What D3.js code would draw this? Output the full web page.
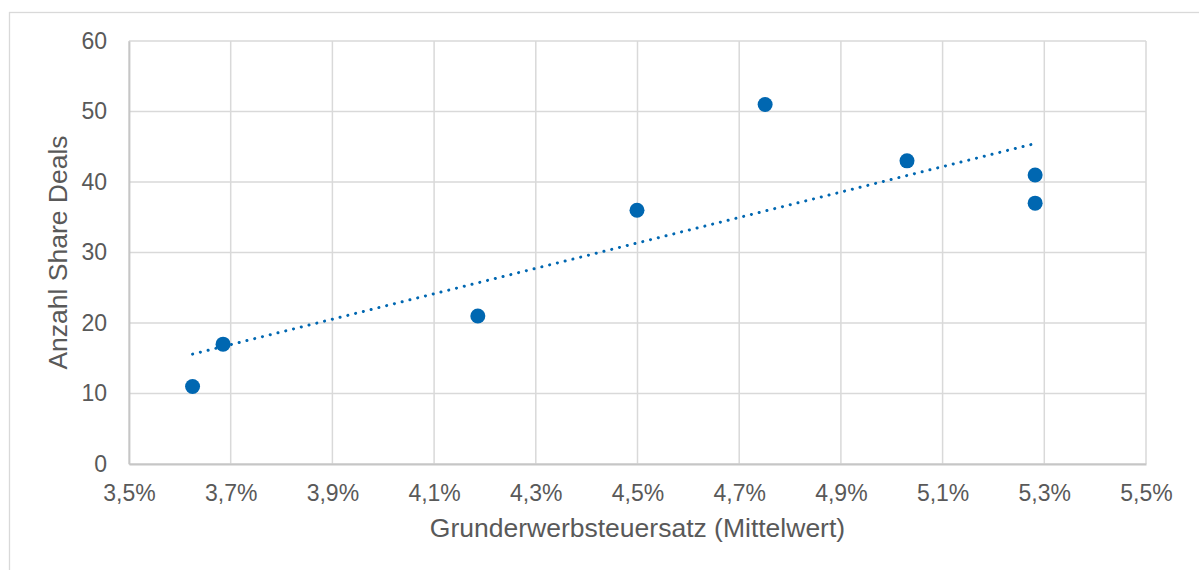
<!DOCTYPE html>
<html>
<head>
<meta charset="utf-8">
<script src="https://cdn.jsdelivr.net/npm/d3@7"></script>
<style>
  body { margin: 0; background: #fff; }
  svg { display: block; font-family: "Liberation Sans", Arial, sans-serif; }
</style>
</head>
<body>
<div id="chart"></div>
<script>
// --- Data ---
const taxRate = [3.625, 3.685, 4.186, 4.499, 4.751, 5.030, 5.282, 5.282]; // in %
const shareDeals = [11, 17, 21, 36, 51, 43, 41, 37];
const xTicks = [3.5, 3.7, 3.9, 4.1, 4.3, 4.5, 4.7, 4.9, 5.1, 5.3, 5.5];
const yTicks = [0, 10, 20, 30, 40, 50, 60];

const width = 1199, height = 570;
const margin = { top: 41, right: 53, bottom: 106, left: 129 };
const textColor = "#595959";
const gridColor = "#d9d9d9";
const dotColor = "#0067b1";

const svg = d3.select("#chart").append("svg")
    .attr("width", width)
    .attr("height", height);

// outer chart frame (extends past window on right/bottom)
svg.append("rect")
    .attr("x", 9.5).attr("y", 12.5)
    .attr("width", width).attr("height", height)
    .attr("fill", "none")
    .attr("stroke", gridColor)
    .attr("stroke-width", 1.3);

const x = d3.scaleLinear()
    .domain([3.5, 5.5])
    .range([margin.left, width - margin.right]);

const y = d3.scaleLinear()
    .domain([0, 60])
    .range([height - margin.bottom, margin.top]);

const fmt = v => v.toFixed(1).replace(".", ",") + "%";

// Gridlines
const grid = svg.append("g");
grid.selectAll("line.v")
    .data(xTicks)
    .join("line")
    .attr("x1", d => x(d)).attr("x2", d => x(d))
    .attr("y1", y(60)).attr("y2", y(0))
    .attr("stroke", gridColor)
    .attr("stroke-width", 1.5);
grid.selectAll("line.h")
    .data(yTicks)
    .join("line")
    .attr("x1", x(3.5)).attr("x2", x(5.5))
    .attr("y1", d => y(d)).attr("y2", d => y(d))
    .attr("stroke", gridColor)
    .attr("stroke-width", 1.5);

// Axes (left and bottom lines slightly darker)
const xAxis = svg.append("g")
    .attr("transform", `translate(0,${y(0)})`)
    .call(d3.axisBottom(x).tickValues(xTicks).tickFormat(fmt).tickSize(0).tickPadding(21));
const yAxis = svg.append("g")
    .attr("transform", `translate(${x(3.5)},0)`)
    .call(d3.axisLeft(y).tickValues(yTicks).tickSize(0).tickPadding(22));

[xAxis, yAxis].forEach(a => {
    a.select(".domain").attr("stroke", "#c6c6c6").attr("stroke-width", 1.8);
    a.selectAll("text")
        .attr("fill", textColor)
        .attr("font-size", 23)
        .attr("font-family", "'Liberation Sans', Arial, sans-serif");
});

// Trendline (least squares fit)
const mx = d3.mean(taxRate), my = d3.mean(shareDeals);
const slope = d3.sum(taxRate, (v, i) => (v - mx) * (shareDeals[i] - my)) /
    d3.sum(taxRate, v => (v - mx) ** 2);
const intercept = my - slope * mx;
const xExt = d3.extent(taxRate);

svg.append("line")
    .attr("x1", x(xExt[0])).attr("y1", y(intercept + slope * xExt[0]))
    .attr("x2", x(xExt[1])).attr("y2", y(intercept + slope * xExt[1]))
    .attr("stroke", dotColor)
    .attr("stroke-width", 3)
    .attr("stroke-linecap", "round")
    .attr("stroke-dasharray", "0.1 7.9");

// Points
svg.append("g")
    .selectAll("circle")
    .data(taxRate.map((v, i) => [v, shareDeals[i]]))
    .join("circle")
    .attr("cx", d => x(d[0]))
    .attr("cy", d => y(d[1]))
    .attr("r", 7.5)
    .attr("fill", dotColor);

// Axis titles
svg.append("text")
    .attr("x", 637.5)
    .attr("y", 537)
    .attr("text-anchor", "middle")
    .attr("fill", textColor)
    .attr("font-size", 26.5)
    .text("Grunderwerbsteuersatz (Mittelwert)");

svg.append("text")
    .attr("transform", `translate(67,${(y(0) + y(60)) / 2}) rotate(-90)`)
    .attr("text-anchor", "middle")
    .attr("fill", textColor)
    .attr("font-size", 26.5)
    .text("Anzahl Share Deals");
</script>
</body>
</html>
